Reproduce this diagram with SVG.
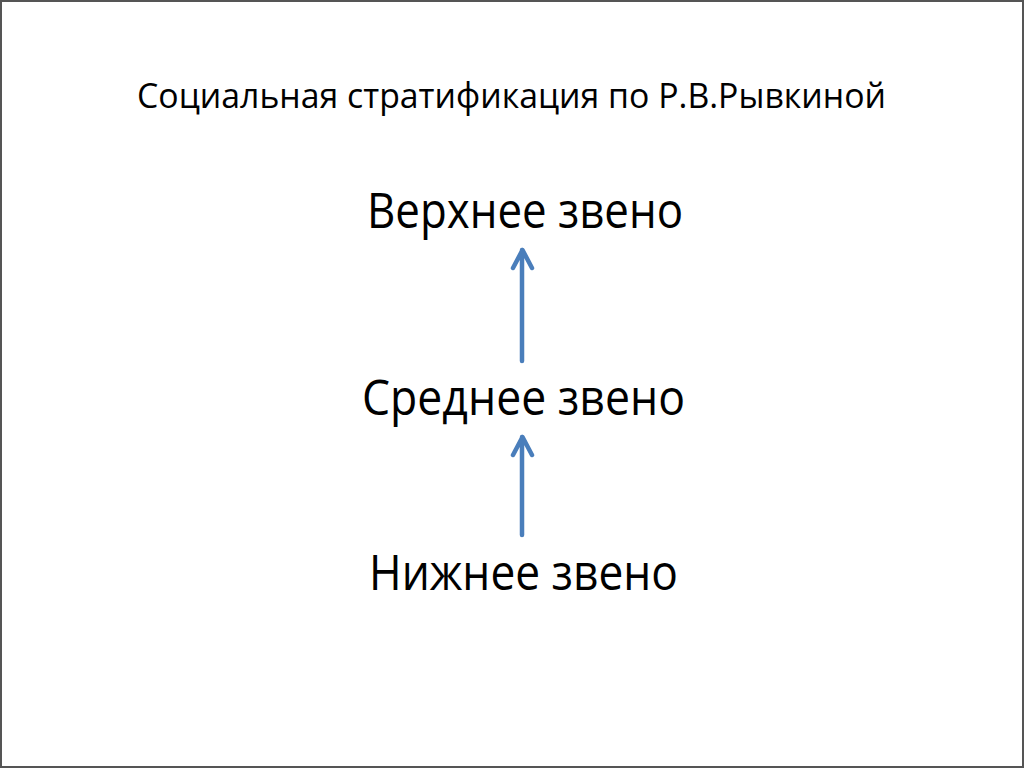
<svg xmlns="http://www.w3.org/2000/svg" width="1024" height="768" viewBox="0 0 1024 768">
<style>
text{font-family:"Open Sans","Noto Sans","DejaVu Sans",sans-serif;fill:#000}
.t{font-size:34px}
.n{font-size:49px}
.c{stroke:#4a7ebb;stroke-width:4.5;fill:none;stroke-linecap:round;stroke-linejoin:round}
</style>
<rect x="0" y="0" width="1024" height="768" fill="#fff"/>
<rect x="1" y="1" width="1022" height="766" fill="none" stroke="#555" stroke-width="2"/>
<text class="t" x="137" y="108" textLength="749" lengthAdjust="spacingAndGlyphs">Социальная стратификация по Р.В.Рывкиной</text>
<g id="upper"><text class="n" x="367" y="228" textLength="316" lengthAdjust="spacingAndGlyphs">Верхнее звено</text></g>
<g id="middle"><text class="n" x="362" y="415" textLength="323" lengthAdjust="spacingAndGlyphs">Среднее звено</text></g>
<g id="lower"><text class="n" x="369" y="590" textLength="309" lengthAdjust="spacingAndGlyphs">Нижнее звено</text></g>
<g id="connectors">
<path class="c" d="M522 361V250M513 268L522.5 250L532 268"/>
<path class="c" d="M522 535V437M513 455L522.5 437L532 455"/>
</g>
</svg>
